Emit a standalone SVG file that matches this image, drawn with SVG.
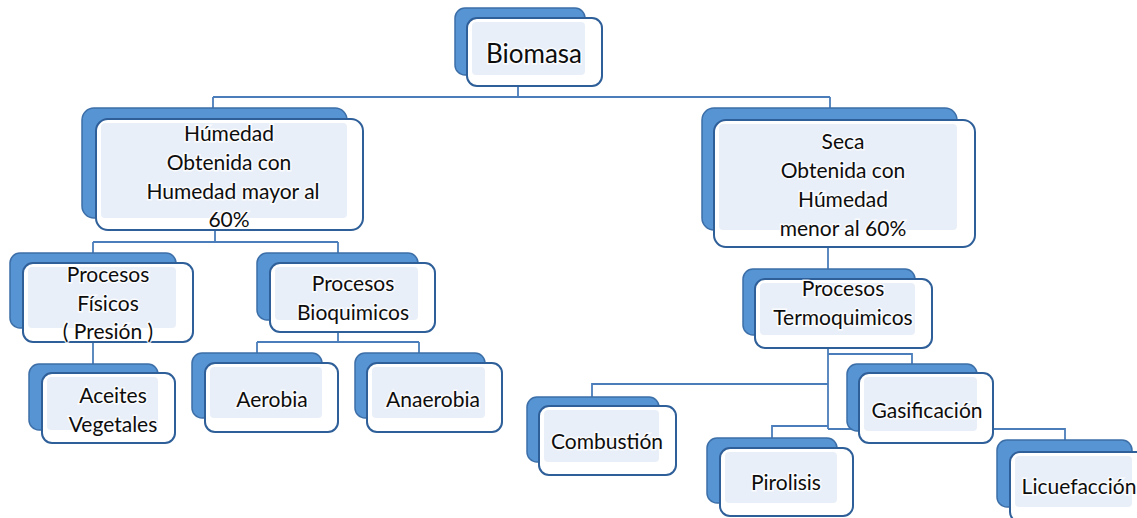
<svg xmlns="http://www.w3.org/2000/svg" width="1137" height="518" viewBox="0 0 1137 518">
<defs>
<style>
.back{fill:#5794d3;stroke:#3c6fa8;stroke-width:1.5}
.front{fill:#ffffff;stroke:#2f5f99;stroke-width:2}
.inner{fill:#e9eff8}
.t{font-family:Lato,"Liberation Sans",sans-serif;font-size:21px;fill:#0d0d0d;text-anchor:middle;dominant-baseline:central;stroke:#ffffff;stroke-width:3;stroke-opacity:.8;paint-order:stroke}
.big{font-size:26px}
.c{fill:none;stroke:#4a7dba;stroke-width:1.8}
</style>
</defs>
<rect width="1137" height="518" fill="#ffffff"/>
<g id="connectors">
<path class="c" d="M518,86V97M213,97H830M213,97V108M830,97V108"/>
<path class="c" d="M215,230V242M93,242H338M93,242V253M338,242V253"/>
<path class="c" d="M93,342V364"/>
<path class="c" d="M338,332V342M257,342H419M257,342V353M419,342V353"/>
<path class="c" d="M828,247V269"/>
<path class="c" d="M828,348V429M828,354H912V364M828,384H592V397M828,426H772V438M828,429H1065V440"/>
</g>
<g id="biomasa">
<rect class="back" x="455" y="8" width="130" height="67" rx="10"/>
<rect class="front" x="467" y="18" width="135" height="68" rx="10"/>
<rect class="inner" x="472" y="22" width="113" height="53" rx="4"/>
<text class="t big" x="534" y="53">Biomasa</text>
</g>
<g id="humeda">
<rect class="back" x="82" y="108" width="265" height="110" rx="12"/>
<rect class="front" x="96" y="119" width="267" height="111" rx="12"/>
<rect class="inner" x="101" y="123" width="246" height="95" rx="4"/>
<text class="t" x="229" y="132">Húmedad</text>
<text class="t" x="229" y="161">Obtenida con</text>
<text class="t" x="233" y="190">Humedad mayor al</text>
<text class="t" x="229" y="218">60%</text>
</g>
<g id="seca">
<rect class="back" x="702" y="108" width="255" height="122" rx="12"/>
<rect class="front" x="714" y="120" width="261" height="127" rx="12"/>
<rect class="inner" x="719" y="124" width="238" height="106" rx="4"/>
<text class="t" x="843" y="140">Seca</text>
<text class="t" x="843" y="169">Obtenida con</text>
<text class="t" x="843" y="198">Húmedad</text>
<text class="t" x="843" y="227">menor al 60%</text>
</g>
<g id="fisicos">
<rect class="back" x="10" y="253" width="166" height="75" rx="10"/>
<rect class="front" x="23" y="263" width="170" height="79" rx="10"/>
<rect class="inner" x="28" y="267" width="148" height="61" rx="4"/>
<text class="t" x="108" y="273">Procesos</text>
<text class="t" x="108" y="302">Físicos</text>
<text class="t" x="108" y="330">( Presión )</text>
</g>
<g id="bioquimicos">
<rect class="back" x="257" y="253" width="161" height="67" rx="10"/>
<rect class="front" x="270" y="263" width="165" height="69" rx="10"/>
<rect class="inner" x="275" y="267" width="143" height="53" rx="4"/>
<text class="t" x="353" y="282">Procesos</text>
<text class="t" x="353" y="311">Bioquimicos</text>
</g>
<g id="aceites">
<rect class="back" x="29" y="364" width="129" height="66" rx="10"/>
<rect class="front" x="42" y="373" width="133" height="70" rx="10"/>
<rect class="inner" x="47" y="377" width="111" height="53" rx="4"/>
<text class="t" x="113" y="394">Aceites</text>
<text class="t" x="113" y="423">Vegetales</text>
</g>
<g id="aerobia">
<rect class="back" x="192" y="353" width="130" height="65" rx="10"/>
<rect class="front" x="205" y="363" width="133" height="69" rx="10"/>
<rect class="inner" x="210" y="367" width="112" height="51" rx="4"/>
<text class="t" x="272" y="398">Aerobia</text>
</g>
<g id="anaerobia">
<rect class="back" x="355" y="353" width="130" height="65" rx="10"/>
<rect class="front" x="367" y="363" width="135" height="69" rx="10"/>
<rect class="inner" x="372" y="367" width="113" height="51" rx="4"/>
<text class="t" x="433" y="398">Anaerobia</text>
</g>
<g id="termoquimicos">
<rect class="back" x="743" y="269" width="172" height="66" rx="10"/>
<rect class="front" x="755" y="279" width="177" height="69" rx="10"/>
<rect class="inner" x="760" y="283" width="155" height="52" rx="4"/>
<text class="t" x="843" y="287">Procesos</text>
<text class="t" x="843" y="316">Termoquimicos</text>
</g>
<g id="combustion">
<rect class="back" x="527" y="397" width="132" height="65" rx="10"/>
<rect class="front" x="539" y="406" width="137" height="69" rx="10"/>
<rect class="inner" x="544" y="410" width="115" height="52" rx="4"/>
<text class="t" x="607" y="440">Combustión</text>
</g>
<g id="pirolisis">
<rect class="back" x="707" y="438" width="130" height="65" rx="10"/>
<rect class="front" x="720" y="448" width="133" height="68" rx="10"/>
<rect class="inner" x="725" y="452" width="112" height="51" rx="4"/>
<text class="t" x="786" y="481">Pirolisis</text>
</g>
<g id="gasificacion">
<rect class="back" x="847" y="364" width="130" height="67" rx="10"/>
<rect class="front" x="859" y="373" width="134" height="70" rx="10"/>
<rect class="inner" x="864" y="377" width="113" height="54" rx="4"/>
<text class="t" x="927" y="409">Gasificación</text>
</g>
<g id="licuefaccion">
<rect class="back" x="997" y="440" width="135" height="67" rx="10"/>
<rect class="front" x="1010" y="452" width="140" height="70" rx="10"/>
<rect class="inner" x="1015" y="456" width="117" height="51" rx="4"/>
<text class="t" x="1079" y="485">Licuefacción</text>
</g>
</svg>
